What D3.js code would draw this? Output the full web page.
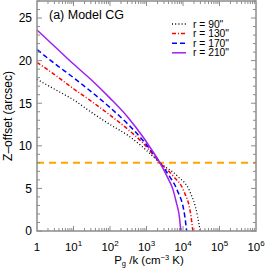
<!DOCTYPE html>
<html><head><meta charset="utf-8">
<script src="https://cdn.jsdelivr.net/npm/d3@7"></script>
<style>body{margin:0;background:#fff}svg{display:block;font-family:"Liberation Sans",Arial,sans-serif}</style>
</head><body><svg id="c" width="266" height="268"></svg>
<script>
// data: log10(Pg/k) and Z-offset (arcsec) for each radius
const logP90  = [0, 0.5, 1.0, 1.5, 2.0, 2.5, 2.91, 3.37, 3.87, 4.17, 4.40, 4.47];
const z90     = [17.8, 16.6, 15.4, 13.9, 12.5, 11.2, 9.8, 8.0, 6.35, 4.8, 1.7, 0];
const logP130 = [0, 0.5, 1.0, 1.5, 2.0, 2.5, 2.91, 3.37, 3.75, 4.01, 4.22, 4.27];
const z130    = [19.8, 18.3, 16.7, 15.2, 13.6, 11.9, 10.3, 8.0, 6.35, 4.8, 1.7, 0];
const logP170 = [0, 0.5, 1.0, 1.5, 2.0, 2.5, 2.91, 3.37, 3.64, 3.84, 4.05, 4.10];
const z170    = [21.3, 19.6, 18.0, 16.3, 14.5, 12.5, 10.6, 8.0, 6.35, 4.8, 1.7, 0];
const logP210 = [0, 0.5, 1.0, 1.5, 2.0, 2.5, 2.91, 3.1, 3.37, 3.57, 3.73, 3.82, 3.90, 3.94];
const z210    = [23.6, 21.6, 19.6, 17.7, 15.6, 13.3, 11.0, 9.8, 8.0, 6.35, 4.8, 3.3, 1.7, 0];
const seriesNames = ['r = 90"', 'r = 130"', 'r = 170"', 'r = 210"'];
const seriesColors = ["#000000", "#ff0000", "#0000ff", "#a020f0"];
const seriesDash = ["1,2.2", "4,2,1,2", "5,3", null];
const refZ = 8;
const yTicks = [0, 5, 10, 15, 20, 25];
const xTickExps = [0, 1, 2, 3, 4, 5, 6];

const svg = d3.select("#c");
const L = 37, R = 256, T = 1, B = 231;
const x = d3.scaleLog().domain([1, 1e6]).range([L, R]);
const y = d3.scaleLinear().domain([0, 27]).range([B, T]);
const axisCol = "#8c8c8c";

// curves
const logs = [logP90, logP130, logP170, logP210];
const zs = [z90, z130, z170, z210];
const line = d3.line().x(d => x(Math.pow(10, d[0]))).y(d => y(d[1])).curve(d3.curveMonotoneX);
const g = svg.append("g");
// orange reference line
g.append("line").attr("x1", L).attr("x2", R).attr("y1", y(refZ)).attr("y2", y(refZ))
  .attr("stroke", "#ffa500").attr("stroke-width", 2).attr("stroke-dasharray", "7,5");
logs.forEach((lp, i) => {
  const pts = lp.map((v, j) => [v, zs[i][j]]);
  const p = g.append("path").attr("d", line(pts)).attr("fill", "none")
    .attr("stroke", seriesColors[i]).attr("stroke-width", i === 0 ? 1.3 : 1.5);
  if (seriesDash[i]) p.attr("stroke-dasharray", seriesDash[i]);
});

// frame
svg.append("rect").attr("x", L).attr("y", T).attr("width", R - L).attr("height", B - T)
  .attr("fill", "none").attr("stroke", axisCol).attr("stroke-width", 1.5);

// y ticks (both sides, inward)
const ax = svg.append("g").attr("stroke", axisCol).attr("stroke-width", 1);
for (let v = 0; v <= 27; v++) {
  const len = v % 5 === 0 ? 5 : 3;
  ax.append("line").attr("x1", L).attr("x2", L + len).attr("y1", y(v)).attr("y2", y(v));
  ax.append("line").attr("x1", R).attr("x2", R - len).attr("y1", y(v)).attr("y2", y(v));
}
// x ticks (log, both sides)
for (let e = 0; e < 6; e++) {
  for (let m = 1; m <= 9; m++) {
    const v = m * Math.pow(10, e);
    const len = m === 1 ? 5 : 3;
    if (m === 1 && e === 0) continue;
    ax.append("line").attr("x1", x(v)).attr("x2", x(v)).attr("y1", B).attr("y2", B - len);
    ax.append("line").attr("x1", x(v)).attr("x2", x(v)).attr("y1", T).attr("y2", T + len);
  }
}

// y tick labels
svg.append("g").selectAll("text").data(yTicks).join("text")
  .attr("x", 32).attr("y", d => y(d) + 4.3).attr("text-anchor", "end")
  .attr("font-size", 12).text(d => d);
// x tick labels
const xl = svg.append("g");
xTickExps.forEach(e => {
  const t = xl.append("text").attr("x", x(Math.pow(10, e))).attr("y", 250.5)
    .attr("text-anchor", "middle").attr("font-size", 11.5);
  if (e === 0) t.text("1");
  else {
    t.append("tspan").text("10");
    t.append("tspan").attr("font-size", 8).attr("dy", -5).text(e);
  }
});

// axis titles
const xt = svg.append("text").attr("x", 149).attr("y", 263.5).attr("text-anchor", "middle").attr("font-size", 11.5);
xt.append("tspan").text("P");
xt.append("tspan").attr("font-size", 7.5).attr("dy", 2).text("g");
xt.append("tspan").attr("dy", -2).text(" /k (cm");
xt.append("tspan").attr("font-size", 7.5).attr("dy", -4).text("\u22123");
xt.append("tspan").attr("dy", 4).text(" K)");

svg.append("text").attr("transform", "translate(12,116) rotate(-90)")
  .attr("text-anchor", "middle").attr("font-size", 12).text("Z\u2013offset (arcsec)");

// panel title
svg.append("text").attr("x", 49).attr("y", 18.5).attr("font-size", 12.5).text("(a) Model CG");

// legend
const lg = svg.append("g");
seriesNames.forEach((n, i) => {
  const yy = 24 + i * 9.6;
  const l = lg.append("line").attr("x1", 172).attr("x2", 186).attr("y1", yy).attr("y2", yy)
    .attr("stroke", seriesColors[i]).attr("stroke-width", i === 0 ? 1.3 : 1.5);
  if (seriesDash[i]) l.attr("stroke-dasharray", seriesDash[i]);
  lg.append("text").attr("x", 193).attr("y", yy + 3.6).attr("font-size", 10.3).text(n);
});
</script></body></html>
